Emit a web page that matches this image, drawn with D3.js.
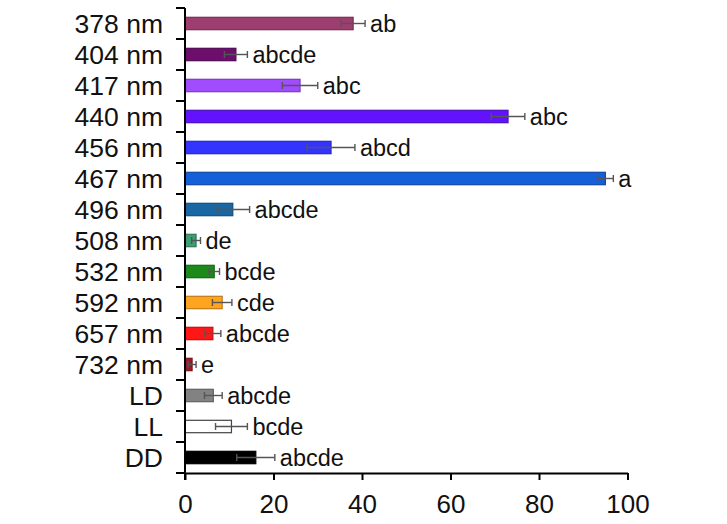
<!DOCTYPE html>
<html>
<head>
<meta charset="utf-8">
<script src="https://cdn.jsdelivr.net/npm/d3@7"></script>
<style>
html,body{margin:0;padding:0;background:#fff;}
svg{display:block;font-family:"Liberation Sans",Arial,sans-serif;}
</style>
</head>
<body>
<svg id="chart" width="727" height="524"></svg>
<script>
const categories = ["378 nm","404 nm","417 nm","440 nm","456 nm","467 nm","496 nm","508 nm","532 nm","592 nm","657 nm","732 nm","LD","LL","DD"];
const means = [38, 11.5, 26, 73, 33, 95, 10.8, 2.5, 6.6, 8.4, 6.3, 1.6, 6.4, 10.5, 16];
const errors = [2.7, 2.6, 4, 3.8, 5.4, 1.8, 3.8, 1, 1.2, 2.2, 1.8, 0.9, 2, 3.6, 4.3];
const letters = ["ab","abcde","abc","abc","abcd","a","abcde","de","bcde","cde","abcde","e","abcde","bcde","abcde"];
const colors = ["#9e3e6e","#6c0f6c","#a24cff","#6212ff","#3434ff","#1560d8","#1a66a2","#3f9f72","#1b8a1b","#ffa41f","#ff1616","#9a1a2a","#828282","#ffffff","#000000"];
const xTicks = [0,20,40,60,80,100];

const svg = d3.select("#chart");
const x = d3.scaleLinear().domain([0,100]).range([185,627.5]);
const y = d3.scaleBand().domain(categories).range([8,473]).padding(0);
const bw = y.bandwidth();
const barH = bw*0.4;

const data = categories.map((c,i)=>({c, m:means[i], e:errors[i], l:letters[i], col:colors[i]}));

// bars
svg.append("g").selectAll("rect").data(data).join("rect")
  .attr("x", x(0))
  .attr("y", d=>y(d.c)+(bw-barH)/2)
  .attr("width", d=>x(d.m)-x(0))
  .attr("height", barH)
  .attr("fill", d=>d.col)
  .attr("stroke", d=> d.col==="#ffffff" ? "#444" : d.col==="#000000" ? "#000" : d3.color(d.col).darker(0.8))
  .attr("stroke-width", 1.2);

// error bars
const eg = svg.append("g").attr("stroke","#555").attr("stroke-width",1.4).attr("fill","none");
data.forEach(d=>{
  const cy = y(d.c)+bw/2;
  eg.append("line").attr("x1",x(d.m-d.e)).attr("x2",x(d.m+d.e)).attr("y1",cy).attr("y2",cy);
  eg.append("line").attr("x1",x(d.m-d.e)).attr("x2",x(d.m-d.e)).attr("y1",cy-3.5).attr("y2",cy+3.5);
  eg.append("line").attr("x1",x(d.m+d.e)).attr("x2",x(d.m+d.e)).attr("y1",cy-3.5).attr("y2",cy+3.5);
});

// significance letters
svg.append("g").selectAll("text").data(data).join("text")
  .attr("x", d=>x(d.m+d.e)+5)
  .attr("y", d=>y(d.c)+bw/2)
  .attr("dy","0.36em")
  .attr("font-size",23.5)
  .attr("fill","#111")
  .text(d=>d.l);

// y axis
const yAxis = svg.append("g");
yAxis.append("line").attr("x1",x(0)).attr("x2",x(0)).attr("y1",y.range()[0]).attr("y2",y.range()[1]+7)
  .attr("stroke","#000").attr("stroke-width",2);
const bounds = categories.map(c=>y(c)).concat([y.range()[1]]);
yAxis.selectAll("line.tk").data(bounds).join("line").attr("class","tk")
  .attr("x1",x(0)-9).attr("x2",x(0)).attr("y1",d=>d).attr("y2",d=>d)
  .attr("stroke","#000").attr("stroke-width",2);
yAxis.selectAll("text").data(categories).join("text")
  .attr("x",163).attr("y",d=>y(d)+bw/2).attr("dy","0.36em")
  .attr("text-anchor","end").attr("font-size",26.5).attr("fill","#111")
  .text(d=>d);

// x axis
const xAxis = d3.axisBottom(x).tickValues(xTicks).tickSize(7).tickPadding(15).tickSizeOuter(0);
const xg = svg.append("g").attr("transform",`translate(0,${y.range()[1]})`).call(xAxis);
xg.select(".domain").attr("stroke","#000").attr("stroke-width",2);
xg.selectAll(".tick line").attr("stroke","#000").attr("stroke-width",2);
xg.selectAll(".tick text").attr("font-size",26).attr("fill","#111").attr("font-family","Liberation Sans, Arial, sans-serif");
</script>
</body>
</html>
